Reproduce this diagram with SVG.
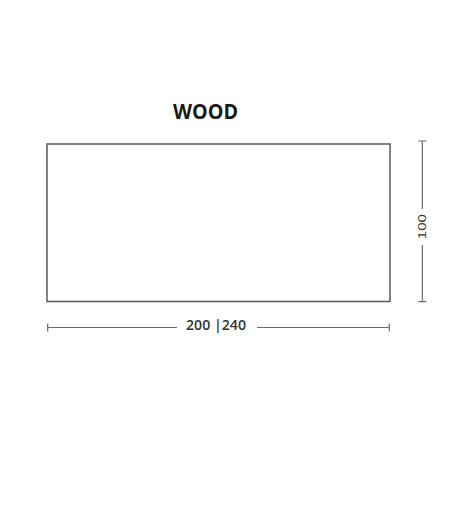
<svg xmlns="http://www.w3.org/2000/svg" width="452" height="505" viewBox="0 0 452 505">
<style>
.dim{stroke:#6a6a6a;stroke-width:1.2;fill:none}
.lbl{font-family:"Open Sans","Liberation Sans",sans-serif;font-weight:600;font-size:14px;fill:#333}
</style>
<rect width="452" height="505" fill="#fff"/>
<g id="title"><text x="205.5" y="118.5" text-anchor="middle" font-family="'Open Sans','Liberation Sans',sans-serif" font-weight="700" font-size="22" fill="#1a1a1a" textLength="65" lengthAdjust="spacingAndGlyphs">WOOD</text></g>
<g id="panel"><rect x="47" y="144" width="343" height="157.5" fill="none" stroke="#5a5a5a" stroke-width="1.5"/></g>
<g id="connectors">
<path class="dim" d="M422.3 141V209M422.3 245V301.7M418.3 141H426.3M418.3 301.7H426.3"/>
<path class="dim" d="M47.7 327.5H177M257 327.5H389.3M47.7 323.5V331.5M389.3 323.5V331.5"/>
</g>
<g id="dim-height"><text transform="translate(425.8 226.7) rotate(-90)" text-anchor="middle" font-family="'Liberation Sans',Arial,sans-serif" font-size="10.5" fill="#333" textLength="25" lengthAdjust="spacingAndGlyphs">100</text></g>
<g id="dim-width"><text class="lbl" x="216" y="329.5" text-anchor="middle" textLength="60" lengthAdjust="spacingAndGlyphs">200 |240</text></g>
</svg>
